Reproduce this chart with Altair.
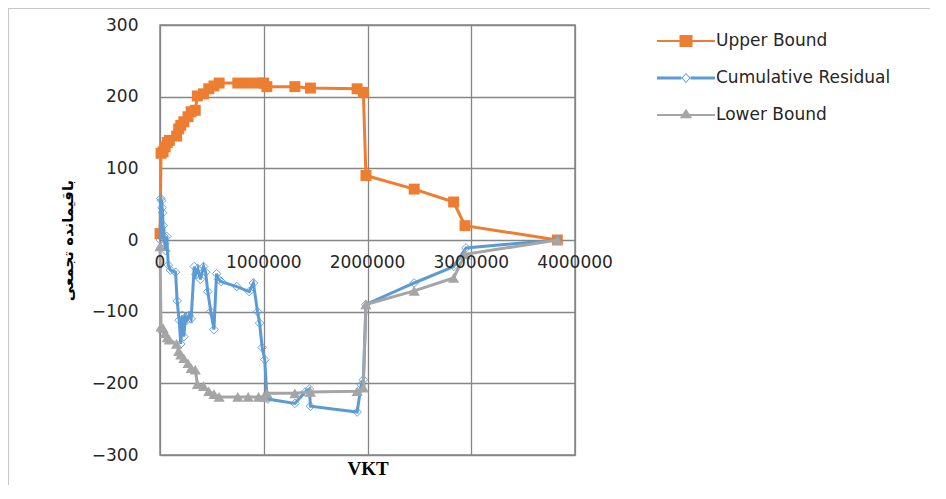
import altair as alt
import pandas as pd

series_names = ["Upper Bound", "Cumulative Residual", "Lower Bound"]
series_colors = ["#ED7D31", "#5B9BD5", "#A5A5A5"]

upper_vkt = [0, 10000, 30000, 50000, 70000, 90000, 160000, 180000, 200000, 230000,
             270000, 300000, 340000, 360000, 420000, 470000, 520000, 570000, 750000,
             850000, 950000, 1000000, 1030000, 1300000, 1450000, 1900000, 1960000,
             1985000, 2450000, 2830000, 2940000, 3830000]
upper_val = [9, 121, 123, 130, 136, 139, 145, 155, 160, 165,
             172, 179, 181, 201, 204, 211, 215, 219, 219,
             219, 219, 219, 214, 214, 212, 211, 206,
             90, 71, 53, 20, 0]

lower_vkt = [0, 10000, 30000, 50000, 70000, 90000, 160000, 180000, 200000, 230000,
             270000, 300000, 340000, 360000, 420000, 470000, 520000, 570000, 750000,
             850000, 950000, 1000000, 1030000, 1300000, 1450000, 1900000, 1960000,
             1985000, 2450000, 2830000, 2940000, 3830000]
lower_val = [-9, -121, -123, -130, -136, -139, -145, -155, -160, -165,
             -172, -179, -181, -201, -204, -211, -215, -219, -219,
             -219, -219, -219, -214, -214, -212, -211, -206,
             -90, -71, -53, -20, 0]

resid_vkt = [2000, 8000, 15000, 20000, 25000, 30000, 38000, 45000, 55000, 65000,
             80000, 100000, 150000, 165000, 185000, 200000, 215000, 230000, 245000, 260000,
             280000, 300000, 330000, 345000, 365000, 390000, 420000, 440000, 460000, 490000,
             520000, 545000, 565000, 590000, 740000, 860000, 900000, 940000, 960000, 985000,
             1010000, 1030000, 1040000, 1300000, 1400000, 1440000, 1450000, 1900000, 1940000, 1960000,
             1985000, 2450000, 2830000, 2950000, 3830000]
resid_val = [0, 58, 55, 45, 38, 20, 5, -5, -15, 5,
             -35, -42, -45, -85, -112, -145, -105, -135, -108, -112,
             -105, -110, -37, -48, -40, -55, -37, -45, -72, -100,
             -125, -47, -55, -58, -65, -72, -60, -100, -116, -150,
             -167, -218, -222, -228, -212, -208, -232, -240, -202, -195,
             -90, -60, -37, -11, 0]

x_ticks = [0, 1000000, 2000000, 3000000, 4000000]
y_ticks = [-300, -200, -100, 0, 100, 200, 300]

rows = []
for name, xs_, ys_ in [(series_names[0], upper_vkt, upper_val),
                       (series_names[1], resid_vkt, resid_val),
                       (series_names[2], lower_vkt, lower_val)]:
    for i, (a, b) in enumerate(zip(xs_, ys_)):
        rows.append({"series": name, "vkt": a, "value": b, "idx": i})
df = pd.DataFrame(rows)

xlab_df = pd.DataFrame({"vkt": x_ticks, "value": [0] * len(x_ticks),
                        "label": [str(v) for v in x_ticks]})

GRID = "#868686"
x_enc = alt.X("vkt:Q", scale=alt.Scale(domain=[0, 4000000], nice=False, zero=False),
              axis=alt.Axis(values=x_ticks, labels=False, ticks=False, domain=False,
                            grid=True, gridColor=GRID, gridWidth=1.3, title="VKT",
                            titleFont="Liberation Serif", titleFontSize=19,
                            titleFontWeight="bold", titleColor="#000000", titlePadding=4))
y_enc = alt.Y("value:Q", scale=alt.Scale(domain=[-300, 300], nice=False),
              axis=alt.Axis(values=y_ticks, ticks=False, domain=False, grid=True,
                            gridColor=GRID, gridWidth=1.3, labelFont="DejaVu Sans",
                            labelFontSize=17, labelColor="#262626", labelPadding=22,
                            title="باقیمانده تجمعی", titleFont="DejaVu Sans",
                            titleFontSize=15, titleFontWeight="bold",
                            titleColor="#000000", titlePadding=16))


def series_chart(name):
    return alt.Chart(df).transform_filter(alt.datum.series == name)


o_line = series_chart(series_names[0]).mark_line(strokeWidth=3, color=series_colors[0]).encode(
    x=x_enc, y=y_enc, order="idx:Q")
o_pts = series_chart(series_names[0]).mark_point(shape="square", filled=True, size=120,
                                                 opacity=1, color=series_colors[0]).encode(
    x=x_enc, y=y_enc)
b_line = series_chart(series_names[1]).mark_line(strokeWidth=3, color=series_colors[1]).encode(
    x=x_enc, y=y_enc, order="idx:Q")
b_pts = series_chart(series_names[1]).mark_point(shape="diamond", filled=False, size=75,
                                                 strokeWidth=0.9, opacity=1,
                                                 color=series_colors[1]).encode(
    x=x_enc, y=y_enc)
g_line = series_chart(series_names[2]).mark_line(strokeWidth=3, color=series_colors[2]).encode(
    x=x_enc, y=y_enc, order="idx:Q")
g_pts = series_chart(series_names[2]).mark_point(shape="triangle-up", filled=True, size=125,
                                                 opacity=1, color=series_colors[2]).encode(
    x=x_enc, y=y_enc)

legend_paths = [
    "M-2.9,-0.1H2.9V0.1H-2.9Z M-0.65,-0.6H0.65V0.6H-0.65Z",
    "M-2.9,-0.15H-0.45V0.15H-2.9Z M0.45,-0.15H2.9V0.15H0.45Z "
    "M0,-0.5L0.45,0L0,0.5L-0.45,0Z M0,-0.38L-0.33,0L0,0.38L0.33,0Z",
    "M-2.9,-0.1H2.9V0.1H-2.9Z M0,-0.62L0.62,0.32H-0.62Z",
]
legend_layer = alt.Chart(df).transform_filter("false").mark_point(
    filled=True, opacity=1).encode(
    x=x_enc, y=y_enc,
    color=alt.Color("series:N", scale=alt.Scale(domain=series_names, range=series_colors),
                    legend=alt.Legend(title=None)),
    shape=alt.Shape("series:N", scale=alt.Scale(domain=series_names, range=legend_paths),
                    legend=alt.Legend(title=None)),
)

xlabels = alt.Chart(xlab_df).mark_text(baseline="middle", dy=23, font="DejaVu Sans",
                                       fontSize=17, color="#262626").encode(
    x=x_enc, y=y_enc, text="label:N")

frame_df = pd.DataFrame({"k": [0]})
frame_top = alt.Chart(frame_df).mark_rule(color="#c8c8c8", strokeWidth=1).encode(
    x=alt.value(-152), x2=alt.value(790), y=alt.value(-16.5))
frame_left = alt.Chart(frame_df).mark_rule(color="#c8c8c8", strokeWidth=1).encode(
    x=alt.value(-151.5), y=alt.value(-17), y2=alt.value(480))

chart = alt.layer(
    frame_top, frame_left, o_line, o_pts, b_line, b_pts, g_line, g_pts, legend_layer, xlabels
).properties(
    width=415, height=430,
    padding={"left": 152, "top": 17, "right": 355, "bottom": 30},
    autosize=alt.AutoSizeParams(type="none"),
    background="white",
).configure_view(
    stroke=GRID, strokeWidth=1.5
).configure_legend(
    orient="none", legendX=516, legendY=6, labelFont="DejaVu Sans", labelFontSize=17,
    labelColor="#262626", symbolSize=400, symbolStrokeWidth=0, labelOffset=20,
    rowPadding=19, padding=0, labelLimit=0
)

chart.save("out.html", embed_options={"renderer": "svg", "actions": False})
